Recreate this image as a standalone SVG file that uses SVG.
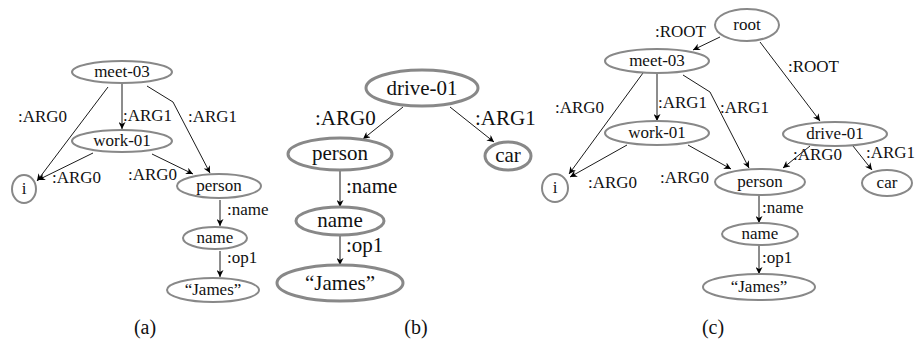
<svg xmlns="http://www.w3.org/2000/svg" width="921" height="350" viewBox="0 0 921 350">
<defs>
<style>
.n{fill:#fff;stroke:#888;stroke-width:2}
.nb{fill:#fff;stroke:#888;stroke-width:3}
text{font-family:'Liberation Serif','DejaVu Serif','Times New Roman',serif;fill:#111}
.t{font-size:17px}
.tb{font-size:21px}
.m{text-anchor:middle}
.e{fill:none;stroke:#000;stroke-width:0.9}
.cap{font-size:20px;text-anchor:middle}
</style>
<marker id="ah" viewBox="0 0 10 10" refX="10" refY="5" markerWidth="7" markerHeight="7" markerUnits="userSpaceOnUse" orient="auto">
<path d="M0,0 L10,5 L0,10 L3,5 Z" fill="#000"/>
</marker>
</defs>
<rect width="921" height="350" fill="#fff"/>

<g id="edges">
<path class="e" marker-end="url(#ah)" d="M108,87 L37,181"/>
<path class="e" marker-end="url(#ah)" d="M122,83 L122,129"/>
<path class="e" marker-end="url(#ah)" d="M147,86 L173,102 L210,173"/>
<path class="e" marker-end="url(#ah)" d="M93,153 L38,180"/>
<path class="e" marker-end="url(#ah)" d="M152,154 L193,174"/>
<path class="e" marker-end="url(#ah)" d="M220,200 L220,226"/>
<path class="e" marker-end="url(#ah)" d="M220,251 L220,277"/>

<path class="e" marker-end="url(#ah)" d="M403,107 L363,139"/>
<path class="e" marker-end="url(#ah)" d="M450,107 L494,142"/>
<path class="e" marker-end="url(#ah)" d="M340,170 L340,207"/>
<path class="e" marker-end="url(#ah)" d="M340,235 L340,265"/>

<path class="e" marker-end="url(#ah)" d="M720,37 L693,50"/>
<path class="e" marker-end="url(#ah)" d="M760,42 L820,121"/>
<path class="e" marker-end="url(#ah)" d="M643,73 L569,174"/>
<path class="e" marker-end="url(#ah)" d="M657,73 L657,121"/>
<path class="e" marker-end="url(#ah)" d="M683,75 L710,92 L749,168"/>
<path class="e" marker-end="url(#ah)" d="M627,145 L570,177"/>
<path class="e" marker-end="url(#ah)" d="M688,145 L731,169"/>
<path class="e" marker-end="url(#ah)" d="M810,146 L783,168"/>
<path class="e" marker-end="url(#ah)" d="M853,146 L872,170"/>
<path class="e" marker-end="url(#ah)" d="M759,195 L759,223"/>
<path class="e" marker-end="url(#ah)" d="M759,245 L759,274"/>
</g>

<g id="edge-labels">
<text class="t" x="18" y="122">:ARG0</text>
<text class="t" x="123" y="121">:ARG1</text>
<text class="t" x="188" y="122">:ARG1</text>
<text class="t" x="52" y="183">:ARG0</text>
<text class="t" x="128" y="180">:ARG0</text>
<text class="t" x="227" y="215">:name</text>
<text class="t" x="227" y="263">:op1</text>

<text class="tb" x="315" y="125">:ARG0</text>
<text class="tb" x="475" y="125">:ARG1</text>
<text class="tb" x="346" y="193">:name</text>
<text class="tb" x="346" y="252">:op1</text>

<text class="t" x="655" y="37">:ROOT</text>
<text class="t" x="788" y="72">:ROOT</text>
<text class="t" x="555" y="113">:ARG0</text>
<text class="t" x="658" y="108">:ARG1</text>
<text class="t" x="720" y="113">:ARG1</text>
<text class="t" x="588" y="188">:ARG0</text>
<text class="t" x="660" y="183">:ARG0</text>
<text class="t" x="793" y="160">:ARG0</text>
<text class="t" x="866" y="158">:ARG1</text>
<text class="t" x="762" y="213">:name</text>
<text class="t" x="762" y="263">:op1</text>
</g>

<g id="a-meet"><ellipse class="n" cx="122" cy="72" rx="50" ry="11"/><text class="t m" x="122" y="77">meet-03</text></g>
<g id="a-work"><ellipse class="n" cx="122" cy="141" rx="50" ry="11"/><text class="t m" x="122" y="146">work-01</text></g>
<g id="a-i"><ellipse class="n" cx="24" cy="189" rx="12" ry="14"/><text class="t m" x="24" y="194">i</text></g>
<g id="a-person"><ellipse class="n" cx="219" cy="186" rx="42" ry="12"/><text class="t m" x="219" y="191">person</text></g>
<g id="a-name"><ellipse class="n" cx="215" cy="238" rx="32" ry="11"/><text class="t m" x="215" y="243">name</text></g>
<g id="a-james"><ellipse class="n" cx="213" cy="290" rx="46" ry="12"/><text class="t m" x="213" y="295">“James”</text></g>

<g id="b-drive"><ellipse class="nb" cx="422" cy="88" rx="56" ry="18"/><text class="tb m" x="422" y="95">drive-01</text></g>
<g id="b-person"><ellipse class="nb" cx="340" cy="154" rx="52" ry="16"/><text class="tb m" x="340" y="160">person</text></g>
<g id="b-car"><ellipse class="nb" cx="508" cy="156" rx="23" ry="14"/><text class="tb m" x="508" y="162">car</text></g>
<g id="b-name"><ellipse class="nb" cx="340" cy="221" rx="44" ry="14"/><text class="tb m" x="340" y="227">name</text></g>
<g id="b-james"><ellipse class="nb" cx="340" cy="283" rx="63" ry="18"/><text class="tb m" x="340" y="290">“James”</text></g>

<g id="c-root"><ellipse class="n" cx="747" cy="25" rx="32" ry="16"/><text class="t m" x="747" y="30">root</text></g>
<g id="c-meet"><ellipse class="n" cx="657" cy="61" rx="52" ry="12"/><text class="t m" x="657" y="66">meet-03</text></g>
<g id="c-work"><ellipse class="n" cx="657" cy="133" rx="52" ry="12"/><text class="t m" x="657" y="138">work-01</text></g>
<g id="c-i"><ellipse class="n" cx="555" cy="188" rx="13" ry="14"/><text class="t m" x="555" y="193">i</text></g>
<g id="c-drive"><ellipse class="n" cx="835" cy="134" rx="52" ry="12"/><text class="t m" x="835" y="139">drive-01</text></g>
<g id="c-person"><ellipse class="n" cx="760" cy="182" rx="45" ry="13"/><text class="t m" x="760" y="187">person</text></g>
<g id="c-car"><ellipse class="n" cx="887" cy="183" rx="25" ry="13"/><text class="t m" x="887" y="188">car</text></g>
<g id="c-name"><ellipse class="n" cx="760" cy="234" rx="38" ry="11"/><text class="t m" x="760" y="239">name</text></g>
<g id="c-james"><ellipse class="n" cx="759" cy="287" rx="56" ry="13"/><text class="t m" x="759" y="292">“James”</text></g>

<g id="captions">
<text class="cap" x="145" y="334">(a)</text>
<text class="cap" x="416" y="334">(b)</text>
<text class="cap" x="713" y="334">(c)</text>
</g>
</svg>
